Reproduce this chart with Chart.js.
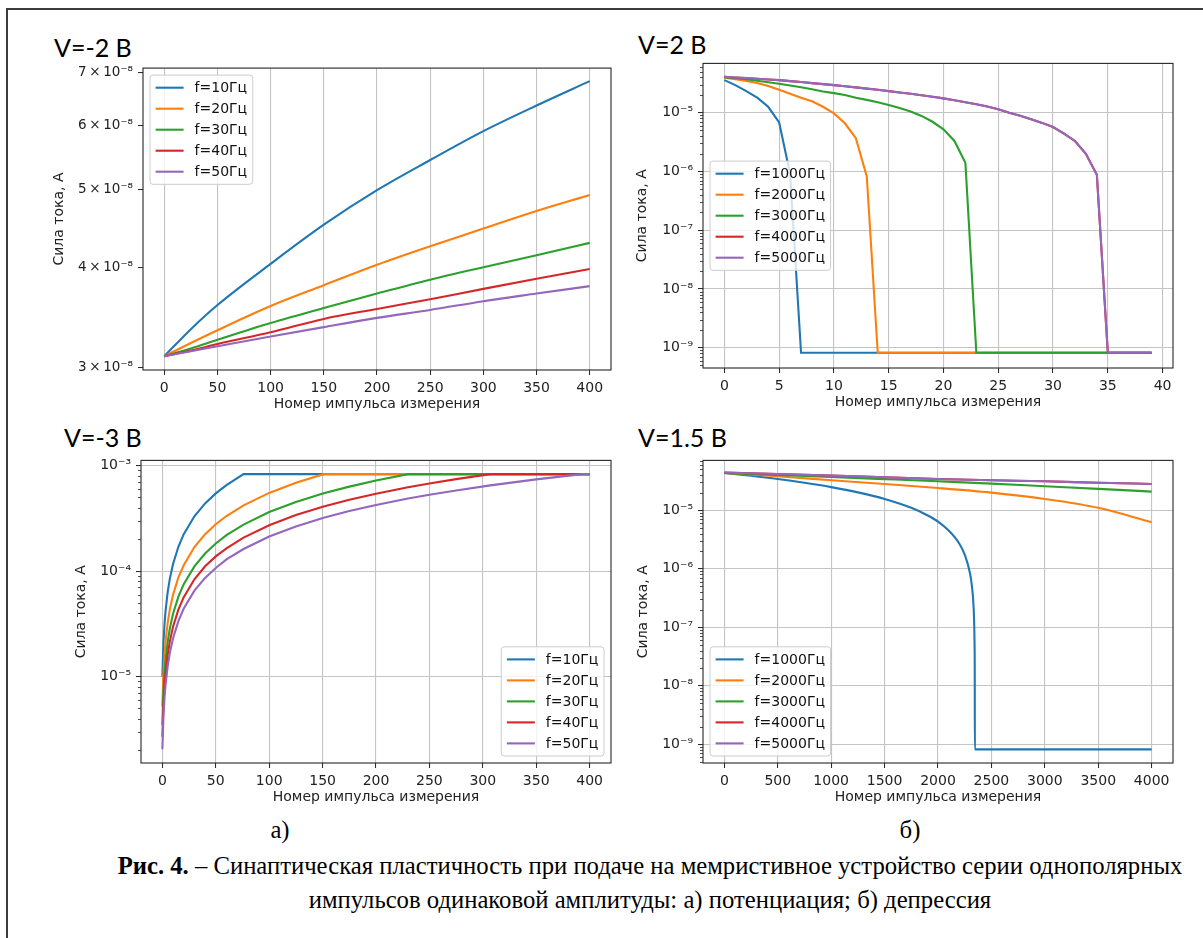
<!DOCTYPE html>
<html>
<head>
<meta charset="utf-8">
<script src="https://cdn.jsdelivr.net/npm/chart.js@4.4.0/dist/chart.umd.min.js"></script>
<style>
  html, body { margin: 0; padding: 0; background: #fff; }
  body { width: 1203px; height: 938px; position: relative; overflow: hidden; }
  .frame { position: absolute; left: 6px; top: 8px; width: 1300px; height: 1000px; border: 2px solid #3c3c3c; }
  canvas { position: absolute; }
  .title { position: absolute; font-family: Lato, sans-serif; font-size: 25px; line-height: 25px; color: #000; white-space: nowrap; }
  .cap { position: absolute; font-family: "Liberation Serif", "Times New Roman", serif; font-size: 24.7px; line-height: 24px; color: #000; white-space: nowrap; text-align: center; }
</style>
</head>
<body>
<div class="frame"></div>

<div class="title" style="left:54px; top:35px;">V=-2 B</div>
<div class="title" style="left:638px; top:32px;">V=2 B</div>
<div class="title" style="left:64px; top:425px;">V=-3 B</div>
<div class="title" style="left:638px; top:425px;">V=1.5 B</div>

<canvas id="chartA1"></canvas>
<canvas id="chartB1"></canvas>
<canvas id="chartA2"></canvas>
<canvas id="chartB2"></canvas>

<div class="cap" style="left:180px; width:200px; top:818px;">а)</div>
<div class="cap" style="left:810px; width:200px; top:818px;">б)</div>
<div class="cap" style="left:0; width:1300px; top:854px;"><b>Рис. 4.</b> – Синаптическая пластичность при подаче на мемристивное устройство серии однополярных</div>
<div class="cap" style="left:0; width:1300px; top:888px;">импульсов одинаковой амплитуды: а) потенциация; б) депрессия</div>

<script>
// series colours (matplotlib tab10)
const colors = ['#1f77b4', '#ff7f0e', '#2ca02c', '#d62728', '#9467bd'];

const freqLow = ['f=10Гц', 'f=20Гц', 'f=30Гц', 'f=40Гц', 'f=50Гц'];
const freqHigh = ['f=1000Гц', 'f=2000Гц', 'f=3000Гц', 'f=4000Гц', 'f=5000Гц'];

// ---- a) V=-2 B ----
const pulsesA1 = [0, 25, 50, 100, 150, 200, 250, 300, 350, 400];
const a1f10 = [3.10e-8, 3.35e-8, 3.59e-8, 4.04e-8, 4.52e-8, 4.99e-8, 5.44e-8, 5.91e-8, 6.36e-8, 6.82e-8];
const a1f20 = [3.10e-8, 3.22e-8, 3.34e-8, 3.58e-8, 3.80e-8, 4.03e-8, 4.25e-8, 4.47e-8, 4.70e-8, 4.92e-8];
const a1f30 = [3.10e-8, 3.17e-8, 3.25e-8, 3.41e-8, 3.56e-8, 3.71e-8, 3.86e-8, 4.00e-8, 4.14e-8, 4.29e-8];
const a1f40 = [3.10e-8, 3.15e-8, 3.21e-8, 3.32e-8, 3.45e-8, 3.55e-8, 3.65e-8, 3.76e-8, 3.87e-8, 3.98e-8];
const a1f50 = [3.10e-8, 3.145e-8, 3.19e-8, 3.28e-8, 3.37e-8, 3.46e-8, 3.54e-8, 3.63e-8, 3.71e-8, 3.79e-8];

// ---- б) V=2 B ----
const pulsesB1 = [0, 1, 2, 3, 4, 5, 6, 7, 8, 9, 10, 11, 12, 13, 14, 15, 16, 17, 18, 19,
                  20, 21, 22, 23, 24, 25, 26, 27, 28, 29, 30, 31, 32, 33, 34, 35, 36, 37, 38, 39];
const b1f1000 = [3.58e-5, 2.94e-5, 2.33e-5, 1.80e-5, 1.26e-5, 6.8e-6, 9.1e-7, 8.2e-10, 8.2e-10, 8.2e-10,
                 8.2e-10, 8.2e-10, 8.2e-10, 8.2e-10, 8.2e-10, 8.2e-10, 8.2e-10, 8.2e-10, 8.2e-10, 8.2e-10,
                 8.2e-10, 8.2e-10, 8.2e-10, 8.2e-10, 8.2e-10, 8.2e-10, 8.2e-10, 8.2e-10, 8.2e-10, 8.2e-10,
                 8.2e-10, 8.2e-10, 8.2e-10, 8.2e-10, 8.2e-10, 8.2e-10, 8.2e-10, 8.2e-10, 8.2e-10, 8.2e-10];
const b1f2000 = [3.92e-5, 3.72e-5, 3.48e-5, 3.20e-5, 2.85e-5, 2.45e-5, 2.10e-5, 1.80e-5, 1.56e-5, 1.26e-5,
                 9.7e-6, 6.6e-6, 3.67e-6, 8.2e-7, 8.2e-10, 8.2e-10, 8.2e-10, 8.2e-10, 8.2e-10, 8.2e-10,
                 8.2e-10, 8.2e-10, 8.2e-10, 8.2e-10, 8.2e-10, 8.2e-10, 8.2e-10, 8.2e-10, 8.2e-10, 8.2e-10,
                 8.2e-10, 8.2e-10, 8.2e-10, 8.2e-10, 8.2e-10, 8.2e-10, 8.2e-10, 8.2e-10, 8.2e-10, 8.2e-10];
const b1f3000 = [4.00e-5, 3.85e-5, 3.70e-5, 3.50e-5, 3.30e-5, 3.10e-5, 2.90e-5, 2.70e-5, 2.50e-5, 2.30e-5,
                 2.15e-5, 2.00e-5, 1.80e-5, 1.65e-5, 1.50e-5, 1.35e-5, 1.20e-5, 1.05e-5, 8.8e-6, 7.0e-6,
                 5.2e-6, 3.3e-6, 1.4e-6, 8.2e-10, 8.2e-10, 8.2e-10, 8.2e-10, 8.2e-10, 8.2e-10, 8.2e-10,
                 8.2e-10, 8.2e-10, 8.2e-10, 8.2e-10, 8.2e-10, 8.2e-10, 8.2e-10, 8.2e-10, 8.2e-10, 8.2e-10];
const b1f4000 = [4.07e-5, 3.97e-5, 3.87e-5, 3.77e-5, 3.68e-5, 3.58e-5, 3.45e-5, 3.32e-5, 3.19e-5, 3.06e-5,
                 2.94e-5, 2.82e-5, 2.70e-5, 2.57e-5, 2.45e-5, 2.33e-5, 2.21e-5, 2.10e-5, 1.98e-5, 1.87e-5,
                 1.75e-5, 1.63e-5, 1.51e-5, 1.39e-5, 1.27e-5, 1.14e-5, 1.00e-5, 8.9e-6, 7.7e-6, 6.7e-6,
                 5.7e-6, 4.4e-6, 3.3e-6, 2.0e-6, 8.8e-7, 8.2e-10, 8.2e-10, 8.2e-10, 8.2e-10, 8.2e-10];
const b1f5000 = [4.07e-5, 3.97e-5, 3.87e-5, 3.77e-5, 3.68e-5, 3.58e-5, 3.45e-5, 3.32e-5, 3.19e-5, 3.06e-5,
                 2.94e-5, 2.82e-5, 2.70e-5, 2.57e-5, 2.45e-5, 2.33e-5, 2.21e-5, 2.10e-5, 1.98e-5, 1.87e-5,
                 1.75e-5, 1.63e-5, 1.51e-5, 1.39e-5, 1.27e-5, 1.14e-5, 1.00e-5, 8.9e-6, 7.7e-6, 6.7e-6,
                 5.7e-6, 4.4e-6, 3.3e-6, 2.0e-6, 8.8e-7, 8.2e-10, 8.2e-10, 8.2e-10, 8.2e-10, 8.2e-10];

// ---- a) V=-3 B ----
const pulsesA2 = [0, 1, 2, 3, 5, 7, 10, 15, 20, 30, 40, 50, 60, 76, 100, 125, 151, 175, 200, 230, 250, 275, 307, 350, 393, 400];
const a2f10 = [1.0e-5, 2.07e-5, 3.14e-5, 4.21e-5, 6.35e-5, 8.5e-5, 1.17e-4, 1.70e-4, 2.24e-4, 3.31e-4, 4.38e-4, 5.45e-4, 6.52e-4,
               8.3e-4, 8.3e-4, 8.3e-4, 8.3e-4, 8.3e-4, 8.3e-4, 8.3e-4, 8.3e-4, 8.3e-4, 8.3e-4, 8.3e-4, 8.3e-4, 8.3e-4];
const a2f20 = [5.2e-6, 1.07e-5, 1.61e-5, 2.16e-5, 3.25e-5, 4.34e-5, 5.98e-5, 8.71e-5, 1.14e-4, 1.69e-4, 2.24e-4, 2.78e-4, 3.33e-4,
               4.20e-4, 5.51e-4, 6.88e-4, 8.3e-4, 8.3e-4, 8.3e-4, 8.3e-4, 8.3e-4, 8.3e-4, 8.3e-4, 8.3e-4, 8.3e-4, 8.3e-4];
const a2f30 = [3.5e-6, 7.1e-6, 1.07e-5, 1.43e-5, 2.15e-5, 2.86e-5, 3.94e-5, 5.74e-5, 7.53e-5, 1.11e-4, 1.47e-4, 1.83e-4, 2.19e-4,
               2.76e-4, 3.63e-4, 4.52e-4, 5.46e-4, 6.32e-4, 7.22e-4, 8.3e-4, 8.3e-4, 8.3e-4, 8.3e-4, 8.3e-4, 8.3e-4, 8.3e-4];
const a2f40 = [2.7e-6, 5.4e-6, 8.1e-6, 1.08e-5, 1.62e-5, 2.16e-5, 2.97e-5, 4.31e-5, 5.66e-5, 8.36e-5, 1.11e-4, 1.38e-4, 1.64e-4,
               2.08e-4, 2.72e-4, 3.40e-4, 4.10e-4, 4.74e-4, 5.42e-4, 6.23e-4, 6.76e-4, 7.44e-4, 8.3e-4, 8.3e-4, 8.3e-4, 8.3e-4];
const a2f50 = [2.05e-6, 4.16e-6, 6.26e-6, 8.37e-6, 1.26e-5, 1.68e-5, 2.31e-5, 3.36e-5, 4.42e-5, 6.53e-5, 8.63e-5, 1.07e-4, 1.29e-4,
               1.62e-4, 2.13e-4, 2.65e-4, 3.20e-4, 3.71e-4, 4.23e-4, 4.87e-4, 5.29e-4, 5.81e-4, 6.49e-4, 7.40e-4, 8.3e-4, 8.3e-4];

// ---- б) V=1.5 B ----
const pulsesB2 = [0, 500, 1000, 1500, 2000, 2500, 3000, 3500, 4000];
const pulsesB2Drop = [0, 250, 500, 750, 1000, 1250, 1500, 1750, 1900, 2000, 2100, 2200, 2250, 2300, 2320, 2330, 2338, 2342, 2344, 2345, 4000];
const b2f1000 = [4.33e-5, 3.87e-5, 3.41e-5, 2.94e-5, 2.48e-5, 2.02e-5, 1.56e-5, 1.10e-5, 8.2e-6, 6.4e-6, 4.5e-6, 2.68e-6, 1.75e-6,
                 8.3e-7, 4.6e-7, 2.8e-7, 1.3e-7, 5.5e-8, 1.8e-8, 8.2e-10, 8.2e-10];
const b2f2000 = [4.33e-5, 3.80e-5, 3.25e-5, 2.80e-5, 2.40e-5, 2.00e-5, 1.56e-5, 1.10e-5, 6.25e-6];
const b2f3000 = [4.33e-5, 4.00e-5, 3.70e-5, 3.40e-5, 3.12e-5, 2.85e-5, 2.57e-5, 2.32e-5, 2.08e-5];
const b2f4000 = [4.40e-5, 4.15e-5, 3.90e-5, 3.65e-5, 3.42e-5, 3.25e-5, 3.12e-5, 2.95e-5, 2.81e-5];
const b2f5000 = [4.40e-5, 4.15e-5, 3.90e-5, 3.65e-5, 3.42e-5, 3.25e-5, 3.12e-5, 2.95e-5, 2.81e-5];

// tick values
const ticksX400 = [0, 50, 100, 150, 200, 250, 300, 350, 400];
const ticksX40 = [0, 5, 10, 15, 20, 25, 30, 35, 40];
const ticksX4000 = [0, 500, 1000, 1500, 2000, 2500, 3000, 3500, 4000];
const ticksYA1 = [3e-8, 4e-8, 5e-8, 6e-8, 7e-8];
const ticksYA2 = [1e-5, 1e-4, 1e-3];
const ticksYB = [1e-9, 1e-8, 1e-7, 1e-6, 1e-5];

Chart.defaults.font.family = '"DejaVu Sans", sans-serif';
Chart.defaults.color = '#222';

const sup = {'-': '⁻', '0': '⁰', '1': '¹', '2': '²', '3': '³', '4': '⁴', '5': '⁵', '6': '⁶', '7': '⁷', '8': '⁸', '9': '⁹'};
function powLabel(v) {
    const e = String(Math.round(Math.log10(v)));
    return '10' + e.split('').map(c => sup[c]).join('');
}
function sciLabel(v) {
    return Math.round(v / 1e-8) + '\u2009×\u200910⁻⁸';
}

// frame, minor ticks and an inside legend, drawn like matplotlib
const mplLook = {
    id: 'mplLook',
    afterDatasetsDraw(chart, args, opts) {
        const { ctx, chartArea: a, scales } = chart;
        ctx.save();
        if (opts.minor) {
            const y = scales.y;
            ctx.strokeStyle = '#222';
            ctx.lineWidth = 0.8;
            const lo = Math.floor(Math.log10(y.min)), hi = Math.ceil(Math.log10(y.max));
            for (let e = lo; e <= hi; e++) {
                for (let k = 2; k <= 9; k++) {
                    const v = k * Math.pow(10, e);
                    if (v < y.min || v > y.max) continue;
                    const py = Math.round(y.getPixelForValue(v)) + 0.5;
                    ctx.beginPath();
                    ctx.moveTo(a.left - 3, py);
                    ctx.lineTo(a.left, py);
                    ctx.stroke();
                }
            }
        }
        ctx.strokeStyle = '#262626';
        ctx.lineWidth = 1.1;
        ctx.strokeRect(a.left, a.top, a.right - a.left, a.bottom - a.top);

        // legend
        const fs = 14, pad = 5.6, handle = 28, gap = 11, spacing = 7;
        const sets = chart.data.datasets;
        ctx.font = fs + 'px "DejaVu Sans"';
        const tw = Math.max(...sets.map(d => ctx.measureText(d.label).width));
        const w = pad * 2 + handle + gap + tw;
        const h = pad * 2 + sets.length * fs + (sets.length - 1) * spacing;
        let bx = a.left + 7, by = a.top + 7;
        if (opts.legendPos === 'center left') by = (a.top + a.bottom) / 2 - h / 2;
        if (opts.legendPos === 'lower left') by = a.bottom - 7 - h;
        if (opts.legendPos === 'lower right') { bx = a.right - 7 - w; by = a.bottom - 7 - h; }
        ctx.beginPath();
        ctx.roundRect(bx, by, w, h, 3);
        ctx.fillStyle = 'rgba(255,255,255,0.8)';
        ctx.fill();
        ctx.strokeStyle = '#cccccc';
        ctx.lineWidth = 1;
        ctx.stroke();
        sets.forEach((d, i) => {
            const cy = by + pad + i * (fs + spacing) + fs / 2;
            ctx.strokeStyle = d.borderColor;
            ctx.lineWidth = 2.1;
            ctx.beginPath();
            ctx.moveTo(bx + pad, cy);
            ctx.lineTo(bx + pad + handle, cy);
            ctx.stroke();
            ctx.fillStyle = '#111';
            ctx.textBaseline = 'middle';
            ctx.textAlign = 'left';
            ctx.fillText(d.label, bx + pad + handle + gap, cy + 1);
        });
        ctx.restore();
    }
};

function makePanel(id, g, cfg) {
    const cv = document.getElementById(id);
    const cl = g.yTitleX - 8, ct = g.t - 12, cr = g.r + 12, cb = g.xTitleY + 8;
    cv.width = cr - cl;
    cv.height = cb - ct;
    cv.style.left = cl + 'px';
    cv.style.top = ct + 'px';

    // later series are drawn on top, as in matplotlib
    const datasets = cfg.series.map((s, i) => ({
        label: cfg.labels[i],
        data: s.x.map((x, j) => ({ x: x, y: s.y[j] })),
        order: -i,
        borderColor: colors[i],
        backgroundColor: colors[i],
        borderWidth: 2.1,
        pointRadius: 0,
        fill: false,
        tension: 0,
        cubicInterpolationMode: cfg.smooth ? 'monotone' : 'default'
    }));

    return new Chart(cv, {
        type: 'line',
        data: { datasets },
        options: {
            responsive: false,
            animation: false,
            layout: { padding: { top: 12, right: 12, left: 0, bottom: 0 } },
            plugins: {
                legend: { display: false },
                tooltip: { enabled: false },
                mplLook: { minor: cfg.minor, legendPos: cfg.legendPos }
            },
            scales: {
                x: {
                    type: 'linear',
                    min: cfg.xMin, max: cfg.xMax, bounds: 'data',
                    afterFit: s => { s.height = cb - g.b; },
                    afterBuildTicks: s => { s.ticks = cfg.xTicks.map(v => ({ value: v })); },
                    ticks: { autoSkip: false, maxRotation: 0, padding: 5, color: '#222', font: { size: 14 }, callback: v => String(v) },
                    grid: { color: '#c4c4c4', lineWidth: 1.1, tickColor: '#222', tickLength: 5, tickWidth: 1 },
                    border: { display: false },
                    title: { display: true, text: 'Номер импульса измерения', padding: 0, color: '#222', font: { size: 14 } }
                },
                y: {
                    type: 'logarithmic',
                    min: cfg.yMin, max: cfg.yMax, bounds: 'data',
                    afterFit: s => { s.width = g.l - cl; },
                    afterBuildTicks: s => { s.ticks = cfg.yTicks.map(v => ({ value: v })); },
                    ticks: { autoSkip: false, padding: 5, color: '#222', font: { size: cfg.yFont }, callback: v => cfg.yLabel(v) },
                    grid: { color: cfg.yGrid ? '#c4c4c4' : 'rgba(0,0,0,0)', lineWidth: 1.1, tickColor: '#222', tickLength: 5, tickWidth: 1 },
                    border: { display: false },
                    title: { display: true, text: 'Сила тока, А', padding: 0, color: '#222', font: { size: 14 } }
                }
            }
        },
        plugins: [mplLook]
    });
}

makePanel('chartA1', { l: 143, t: 67, r: 611, b: 370, yTitleX: 59, xTitleY: 405 }, {
    labels: freqLow,
    series: [
        { x: pulsesA1, y: a1f10 }, { x: pulsesA1, y: a1f20 }, { x: pulsesA1, y: a1f30 },
        { x: pulsesA1, y: a1f40 }, { x: pulsesA1, y: a1f50 }
    ],
    xMin: -20, xMax: 420, xTicks: ticksX400,
    yMin: 2.98e-8, yMax: 7.08e-8, yTicks: ticksYA1, yLabel: sciLabel, yFont: 13.5,
    yGrid: false, minor: false, legendPos: 'upper left', smooth: true
});

makePanel('chartB1', { l: 703, t: 62, r: 1173, b: 368, yTitleX: 642, xTitleY: 403 }, {
    labels: freqHigh,
    series: [
        { x: pulsesB1, y: b1f1000 }, { x: pulsesB1, y: b1f2000 }, { x: pulsesB1, y: b1f3000 },
        { x: pulsesB1, y: b1f4000 }, { x: pulsesB1, y: b1f5000 }
    ],
    xMin: -1.95, xMax: 40.95, xTicks: ticksX40,
    yMin: 4.5e-10, yMax: 6.9e-5, yTicks: ticksYB, yLabel: powLabel, yFont: 14,
    yGrid: true, minor: true, legendPos: 'center left', smooth: false
});

makePanel('chartA2', { l: 141, t: 459, r: 611, b: 763, yTitleX: 81, xTitleY: 798 }, {
    labels: freqLow,
    series: [
        { x: pulsesA2, y: a2f10 }, { x: pulsesA2, y: a2f20 }, { x: pulsesA2, y: a2f30 },
        { x: pulsesA2, y: a2f40 }, { x: pulsesA2, y: a2f50 }
    ],
    xMin: -20, xMax: 420, xTicks: ticksX400,
    yMin: 1.52e-6, yMax: 1.12e-3, yTicks: ticksYA2, yLabel: powLabel, yFont: 14,
    yGrid: true, minor: true, legendPos: 'lower right', smooth: false
});

makePanel('chartB2', { l: 703, t: 459, r: 1173, b: 763, yTitleX: 643, xTitleY: 798 }, {
    labels: freqHigh,
    series: [
        { x: pulsesB2Drop, y: b2f1000 }, { x: pulsesB2, y: b2f2000 }, { x: pulsesB2, y: b2f3000 },
        { x: pulsesB2, y: b2f4000 }, { x: pulsesB2, y: b2f5000 }
    ],
    xMin: -200, xMax: 4200, xTicks: ticksX4000,
    yMin: 4.8e-10, yMax: 7.1e-5, yTicks: ticksYB, yLabel: powLabel, yFont: 14,
    yGrid: true, minor: true, legendPos: 'lower left', smooth: true
});
</script>
</body>
</html>
